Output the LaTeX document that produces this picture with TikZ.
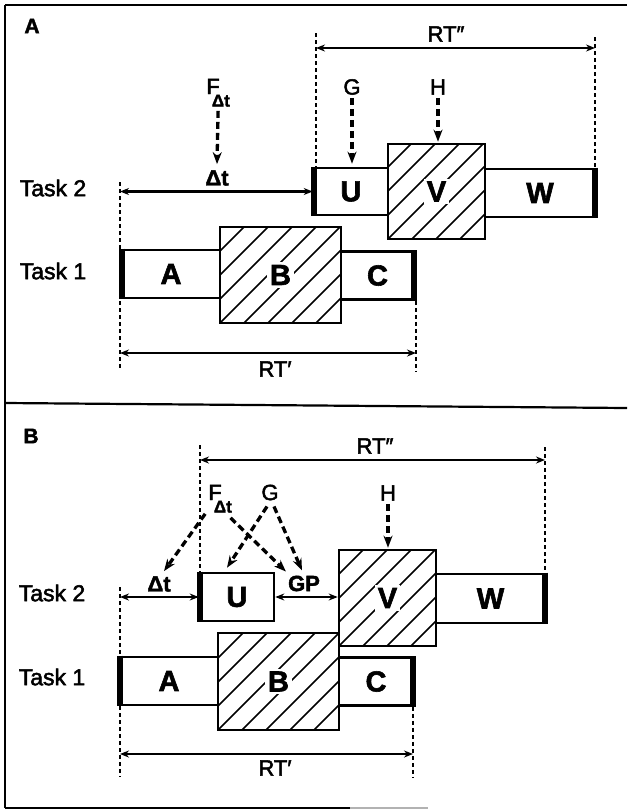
\documentclass[tikz,border=0pt]{standalone}
\usepackage{fontspec}
\setmainfont{Liberation Sans}
\newfontfamily\medfont[FakeBold=2.2]{Liberation Sans}
\newfontfamily\heavyfont[FakeBold=2]{Liberation Sans Bold}
\usetikzlibrary{arrows.meta,calc}
\begin{document}
\begin{tikzpicture}[x=1pt,y=-1pt,
  frame/.style={line width=2.2pt},
  box/.style={draw,line width=2.6pt,fill=white,inner sep=0pt},
  thickedge/.style={line width=5.5pt},
  hatched/.style={path picture={\foreach \k in {-120,-96,...,144}{\draw[line width=1.5pt] ($(path picture bounding box.south west)+(\k,0)$) -- ++(150,-150);}}},
  letter/.style={font=\fontsize{29}{29}\heavyfont,inner sep=3pt,fill=white},
  task/.style={font=\fontsize{23}{23}\medfont,inner sep=0pt},
  lab/.style={font=\fontsize{22}{22}\medfont,inner sep=0pt},
  blab/.style={font=\fontsize{22}{22}\heavyfont,inner sep=0pt},
  panel/.style={font=\fontsize{21}{21}\heavyfont,inner sep=0pt},
  guide/.style={line width=1.8pt,dash pattern=on 4pt off 3pt},
  dim/.style={line width=2.5pt,{Stealth[length=9pt,width=7pt]}-{Stealth[length=9pt,width=7pt]}},
  darr/.style={line width=3.3pt,dash pattern=on 7pt off 4pt,-{Stealth[length=12pt,width=9pt]}},
]
\useasboundingbox (0,0) rectangle (627,809);
% frame
\draw[frame] (5,5) -- (627,5);
\draw[frame] (5,5) -- (5,808);
\draw[frame] (5,403) -- (627,408);
\draw[frame] (5,808) -- (350,808);
\draw[frame,gray!60] (350,808) -- (428,808);

% ================= Panel A =================
\node[panel] (pA) at (32,26) {A};
\node[task] (t2a) at (53,188) {Task 2};
\node[task] (t1a) at (53,271) {Task 1};

\node[box,minimum width=98pt,minimum height=48pt] (A1) at (171,274) {};
\node[box,minimum width=73pt,minimum height=48pt] (C1) at (377.5,275.5) {};
\node[box,hatched,minimum width=121pt,minimum height=96pt] (B1) at (280.5,275) {};
\node[box,minimum width=74pt,minimum height=47pt] (U1) at (351,191.5) {};
\node[box,minimum width=110pt,minimum height=48pt] (W1) at (540,193) {};
\node[box,hatched,minimum width=97pt,minimum height=95pt] (V1) at (436.5,191.5) {};

\draw[thickedge] ([xshift=1.5pt]A1.north west) -- ([xshift=1.5pt]A1.south west);
\draw[thickedge] ([xshift=-1.5pt]C1.north east) -- ([xshift=-1.5pt]C1.south east);
\draw[thickedge] ([xshift=1.5pt]U1.north west) -- ([xshift=1.5pt]U1.south west);
\draw[thickedge] ([xshift=-1.5pt]W1.north east) -- ([xshift=-1.5pt]W1.south east);

\node[letter] (A1t) at (A1) {A};
\node[letter] (B1t) at (B1) {B};
\node[letter] (C1t) at (C1) {C};
\node[letter] (U1t) at (U1) {U};
\node[letter] (V1t) at (V1) {V};
\node[letter] (W1t) at (W1) {W};

% RT'' (A)
\node[lab] (rtdA) at (446,34) {RT″};
\coordinate (gA3t) at (316,33);
\coordinate (gA4t) at (595,37);
\draw[guide] (gA3t) -- (gA3t |- U1.north);
\draw[guide] (gA4t) -- (gA4t |- W1.north);
\coordinate (rA3) at (316,48);
\coordinate (rA4) at (595,48);
\draw[dim] (rA3) -- (rA4);

% F, G, H (A)
\node[lab,anchor=base west] (F1) at (206.2,94) {F\kern-7.9pt\raisebox{-12.5pt}{\fontsize{17}{17}\heavyfont Δt}};
\node[blab] (dt1) at (217,178) {Δt};
\node[lab] (G1) at (352,87) {G};
\node[lab] (H1) at (438,87) {H};
\draw[darr] ([yshift=-4pt]F1.south) -- ([yshift=6pt]dt1.north);
\draw[darr] ([yshift=-3pt]G1.south) -- ([yshift=3pt]G1.south |- U1.north);
\draw[darr] ([yshift=-3pt]H1.south) -- ([yshift=1pt]H1.south |- V1.north);

% delta t (A)
\coordinate (gA1t) at (120,182);
\coordinate (gA1b) at (120,370);
\draw[guide] (gA1t) -- (gA1b);
\coordinate (dA) at (120,191.5);
\draw[dim] (dA) -- (U1.west);

% RT' (A)
\coordinate (gA2b) at (416,372);
\draw[guide] (gA2b |- C1.south) -- (gA2b);
\coordinate (rA1) at (120,353);
\coordinate (rA2) at (416,353);
\draw[dim] (rA1) -- (rA2);
\node[lab] (rtsA) at (275,369) {RT′};

% ================= Panel B =================
\node[panel] (pB) at (31,436) {B};
\node[task] (t2b) at (52,593) {Task 2};
\node[task] (t1b) at (52,677) {Task 1};

\node[box,minimum width=98pt,minimum height=48pt] (A2) at (169,681) {};
\node[box,minimum width=74pt,minimum height=48pt] (C2) at (376,681.5) {};
\node[box,hatched,minimum width=121pt,minimum height=97pt] (B2) at (278.5,681.5) {};
\node[box,minimum width=74pt,minimum height=48pt] (U2) at (237,597) {};
\node[box,minimum width=109pt,minimum height=49pt] (W2) at (490.5,598.5) {};
\node[box,hatched,minimum width=97pt,minimum height=96pt] (V2) at (387.5,598) {};

\draw[thickedge] ([xshift=1.5pt]A2.north west) -- ([xshift=1.5pt]A2.south west);
\draw[thickedge] ([xshift=-1.5pt]C2.north east) -- ([xshift=-1.5pt]C2.south east);
\draw[thickedge] ([xshift=1.5pt]U2.north west) -- ([xshift=1.5pt]U2.south west);
\draw[thickedge] ([xshift=-1.5pt]W2.north east) -- ([xshift=-1.5pt]W2.south east);

\node[letter] (A2t) at (A2) {A};
\node[letter] (B2t) at (B2) {B};
\node[letter] (C2t) at (C2) {C};
\node[letter] (U2t) at (U2) {U};
\node[letter] (V2t) at (V2) {V};
\node[letter] (W2t) at (W2) {W};

% RT'' (B)
\node[lab] (rtdB) at (375,446) {RT″};
\coordinate (gB3t) at (200,445);
\coordinate (gB4t) at (545,447);
\draw[guide] (gB3t) -- (gB3t |- U2.north);
\draw[guide] (gB4t) -- (gB4t |- W2.north);
\coordinate (rB3) at (200,460);
\coordinate (rB4) at (545,460);
\draw[dim] (rB3) -- (rB4);

% F, G, H, GP (B)
\node[lab,anchor=base west] (F2) at (208.2,500) {F\kern-7.9pt\raisebox{-12.5pt}{\fontsize{17}{17}\heavyfont Δt}};
\node[lab] (G2) at (270,492.5) {G};
\node[lab] (H2) at (388,493) {H};
\node[blab] (dt2) at (159,584) {Δt};
\node[blab] (GP) at (304,583.5) {GP};
\draw[darr] ($(F2.south west)+(-3,1)$) -- ($(dt2.north)+(5,-5)$);
\draw[darr] ($(F2.south east)+(-1.5,5)$) -- ($(GP.north west)+(-2,-4)$);
\draw[darr] ($(G2.south)+(-3,6)$) -- ($(U2.north)+(-10,-4)$);
\draw[darr] ($(G2.south)+(4,6)$) -- ($(GP.north)+(-2,-5)$);
\draw[darr] ([yshift=-3pt]H2.south) -- ([yshift=1pt]H2.south |- V2.north);

% delta t and GP intervals (B)
\coordinate (gB1t) at (120,587);
\coordinate (gB1b) at (120,777);
\draw[guide] (gB1t) -- (gB1b);
\coordinate (dB) at (120,597);
\draw[dim] (dB) -- (U2.west);
\draw[dim] (U2.east) -- (U2.east -| V2.west);

% RT' (B)
\coordinate (gB2b) at (413,777);
\draw[guide] (gB2b |- C2.south) -- (gB2b);
\coordinate (rB1) at (120,754);
\coordinate (rB2) at (413,754);
\draw[dim] (rB1) -- (rB2);
\node[lab] (rtsB) at (275,768) {RT′};
\end{tikzpicture}
\end{document}
